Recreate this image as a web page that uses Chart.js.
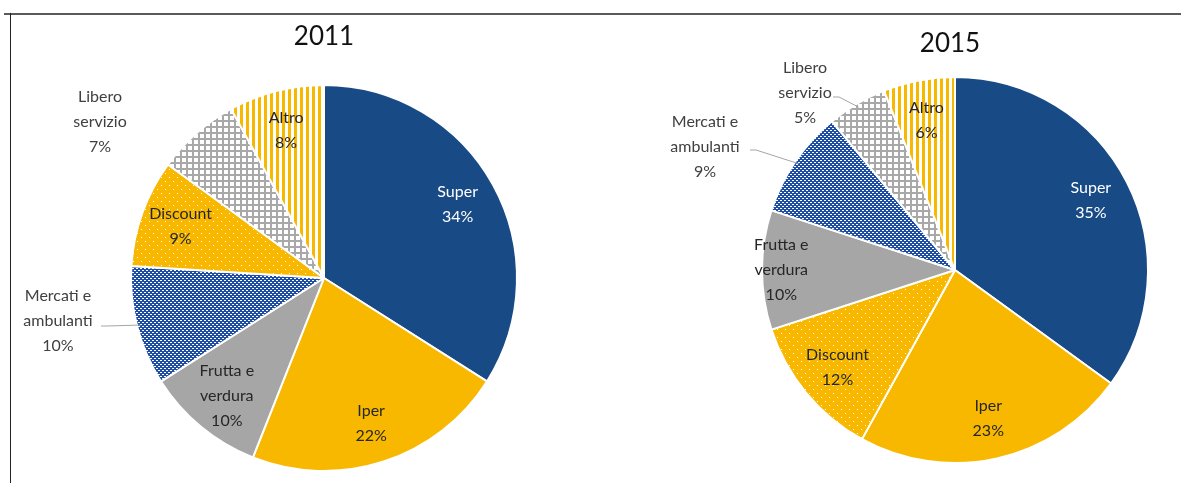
<!DOCTYPE html>
<html>
<head>
<meta charset="utf-8">
<script src="https://cdn.jsdelivr.net/npm/chart.js@4/dist/chart.umd.min.js"></script>
<style>
  html, body { margin: 0; padding: 0; background: #fff; }
  body { width: 1181px; height: 483px; position: relative; overflow: hidden; }
  #frameTop { position: absolute; left: 4px; top: 13px; width: 1177px; height: 2px; background: #5a5a5a; }
  #frameLeft { position: absolute; left: 10px; top: 13px; width: 1px; height: 470px; background: #222; }
  #c2011 { position: absolute; left: 0; top: 0; }
  #c2015 { position: absolute; left: 640px; top: 0; }
</style>
</head>
<body>
<div id="frameTop"></div>
<div id="frameLeft"></div>
<canvas id="c2011" width="640" height="483"></canvas>
<canvas id="c2015" width="541" height="483"></canvas>
<script>
// quote per canale, clockwise from 12 o'clock
var labels2011 = ['Super', 'Iper', 'Frutta e verdura', 'Mercati e ambulanti', 'Discount', 'Libero servizio', 'Altro'];
var values2011 = [34, 22, 10, 10, 9, 7, 8];

var labels2015 = ['Super', 'Iper', 'Discount', 'Frutta e verdura', 'Mercati e ambulanti', 'Libero servizio', 'Altro'];
var values2015 = [35, 23, 12, 10, 9, 5, 6];

// how the label text wraps
var wrap = {
  'Super': ['Super'],
  'Iper': ['Iper'],
  'Frutta e verdura': ['Frutta e', 'verdura'],
  'Mercati e ambulanti': ['Mercati e', 'ambulanti'],
  'Discount': ['Discount'],
  'Libero servizio': ['Libero', 'servizio'],
  'Altro': ['Altro']
};

const FONT = 'Lato, "Noto Sans", sans-serif';
const BLUE = '#184a86';
const GOLD = '#f8b800';
const GREY = '#a6a6a6';

function tile(w, h, draw) {
  var c = document.createElement('canvas');
  c.width = w; c.height = h;
  draw(c.getContext('2d'));
  return document.createElement('canvas').getContext('2d').createPattern(c, 'repeat');
}
var patMercati = tile(4, 4, function (g) {
  g.fillStyle = '#1d4ea4'; g.fillRect(0, 0, 4, 4);
  g.fillStyle = '#ffffff'; g.fillRect(0, 0, 2, 1); g.fillRect(2, 2, 2, 1);
});
var patDiscount = tile(8, 8, function (g) {
  g.fillStyle = GOLD; g.fillRect(0, 0, 8, 8);
  g.fillStyle = '#ffffff'; g.fillRect(1, 1, 1, 1); g.fillRect(5, 5, 1, 1);
});
var patLibero = tile(6, 6, function (g) {
  g.fillStyle = '#ffffff'; g.fillRect(0, 0, 6, 6);
  g.fillStyle = '#a8a8a8'; g.fillRect(0, 0, 6, 2); g.fillRect(0, 0, 2, 6);
});
var patAltro = tile(6, 1, function (g) {
  g.fillStyle = '#ffffff'; g.fillRect(0, 0, 6, 1);
  g.fillStyle = GOLD; g.fillRect(0, 0, 3, 1);
});

var fills = {
  'Super': BLUE, 'Iper': GOLD, 'Frutta e verdura': GREY,
  'Mercati e ambulanti': patMercati, 'Discount': patDiscount,
  'Libero servizio': patLibero, 'Altro': patAltro
};

// custom label drawing (no datalabels plugin available)
const pieLabels = {
  id: 'pieLabels',
  afterDraw(chart, args, opts) {
    const ctx = chart.ctx;
    const meta = chart.getDatasetMeta(0);
    const vals = chart.data.datasets[0].data;
    const area = chart.chartArea;
    const cx = (area.left + area.right) / 2, cy = (area.top + area.bottom) / 2;
    ctx.save();
    ctx.textAlign = 'center';
    ctx.textBaseline = 'middle';
    // title
    ctx.font = '26px ' + FONT;
    ctx.fillStyle = '#111';
    ctx.fillText(opts.title, cx + opts.titleDx, cy + opts.titleDy);

    ctx.font = '16px ' + FONT;
    meta.data.forEach(function (arc, i) {
      const name = chart.data.labels[i];
      const lines = wrap[name].concat([vals[i] + '%']);
      const mid = (arc.startAngle + arc.endAngle) / 2;
      const R = arc.outerRadius;
      let x, y;
      const out = opts.outside[name];
      if (out) {
        x = cx + out.dx; y = cy + out.dy;
        if (out.leader) {
          const ex = cx + Math.cos(mid) * R * 0.98, ey = cy + Math.sin(mid) * R * 0.98;
          const sx = cx + out.leader[0], sy = cy + out.leader[1];
          ctx.strokeStyle = '#a6a6a6';
          ctx.lineWidth = 1;
          ctx.beginPath();
          ctx.moveTo(sx, sy);
          ctx.lineTo(sx + 6, sy);
          ctx.lineTo(ex, ey);
          ctx.stroke();
        }
        ctx.fillStyle = '#404040';
      } else {
        const f = (opts.radius[name] || 0.79);
        x = arc.x + Math.cos(mid) * R * f;
        y = arc.y + Math.sin(mid) * R * f;
        ctx.fillStyle = name === 'Super' ? '#ffffff' : '#262626';
      }
      const lh = 25;
      const y0 = y - (lines.length - 1) * lh / 2;
      lines.forEach(function (t, k) { ctx.fillText(t, x, y0 + k * lh); });
    });
    ctx.restore();
  }
};

function makePie(el, labels, values, padding, labelOpts) {
  return new Chart(document.getElementById(el), {
    type: 'pie',
    data: {
      labels: labels,
      datasets: [{
        data: values,
        backgroundColor: labels.map(function (l) { return fills[l]; }),
        borderColor: '#ffffff',
        borderWidth: 2
      }]
    },
    options: {
      responsive: false,
      animation: false,
      layout: { padding: padding },
      plugins: {
        legend: { display: false },
        tooltip: { enabled: false },
        pieLabels: labelOpts
      }
    },
    plugins: [pieLabels]
  });
}

makePie('c2011', labels2011, values2011,
  { left: 130, right: 122, top: 84, bottom: 11 },
  {
    title: '2011', titleDx: 0, titleDy: -241,
    radius: {},
    outside: {
      'Mercati e ambulanti': { dx: -266, dy: 43, leader: [-223, 48] },
      'Libero servizio': { dx: -224, dy: -156 }
    }
  });

makePie('c2015', labels2015, values2015,
  { left: 121, right: 32, top: 76, bottom: 19 },
  {
    title: '2015', titleDx: -5, titleDy: -226,
    radius: { 'Frutta e verdura': 0.9 },
    outside: {
      'Mercati e ambulanti': { dx: -250, dy: -123, leader: [-205, -120] },
      'Libero servizio': { dx: -150, dy: -177, leader: [-122, -173] }
    }
  });
</script>
</body>
</html>
